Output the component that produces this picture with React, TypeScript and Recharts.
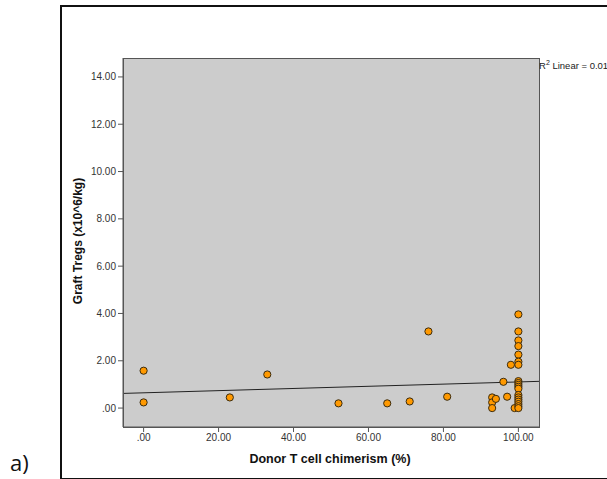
import React from 'react';
import { ScatterChart, Scatter, XAxis, YAxis, CartesianGrid, ReferenceLine } from 'recharts';

const chimerism: number[] = [
  0, 0, 23, 33, 52, 65, 71, 76, 81, 93, 93, 93, 94, 96, 97, 98, 99,
  100, 100, 100, 100, 100, 100, 100, 100, 100, 100, 100, 100, 100, 100, 100, 100, 100, 100, 100,
];
const graftTregs: number[] = [
  1.58, 0.24, 0.45, 1.42, 0.2, 0.2, 0.28, 3.24, 0.48, 0.45, 0.24, 0.0, 0.39, 1.11, 0.48, 1.83, 0.0,
  3.96, 3.24, 2.86, 2.62, 2.26, 1.96, 1.83, 1.14, 1.06, 0.98, 0.9, 0.82, 0.55, 0.45, 0.36, 0.27, 0.17, 0.08, 0.0,
];
const xTicks: number[] = [0, 20, 40, 60, 80, 100];
const yTicks: number[] = [0, 2, 4, 6, 8, 10, 12, 14];
const xDomain: [number, number] = [-5.5, 105.5];
const yDomain: [number, number] = [-0.8, 14.8];
const fitLineX: number[] = [-5.5, 105.5];
const fitLineY: number[] = [0.62, 1.13];

const points = chimerism.map((x, i) => ({ x, y: graftTregs[i] }));
const fitSegment = fitLineX.map((x, i) => ({ x, y: fitLineY[i] }));

const fmt = (v: number) => (v === 0 ? '.00' : v.toFixed(2));

const Dot = (props: any) => {
  const { cx, cy } = props;
  if (cx == null || cy == null) return null;
  return <circle cx={cx} cy={cy} r={3.6} fill="#FF9900" stroke="#3b2c10" strokeWidth={1} />;
};

const PLOT_LEFT = 123;
const PLOT_TOP = 58;
const PLOT_RIGHT = 539;
const PLOT_BOTTOM = 427;
const W = 607;
const H = 479;
const Y_AXIS_W = 50;
const X_AXIS_H = 30;

export default function App() {
  const tickStyle = { fontFamily: '"Liberation Sans", Arial, sans-serif', fontSize: 10, fill: '#333' };
  return (
    <div style={{ position: 'absolute', left: 0, top: 0, width: W, height: H, background: '#fff', overflow: 'hidden' }}>
      <div
        style={{
          position: 'absolute',
          left: 60,
          top: 5,
          width: 560,
          height: 471,
          borderLeft: '2px solid #111',
          borderTop: '2px solid #111',
          borderBottom: '2px solid #111',
        }}
      />
      <div
        style={{
          position: 'absolute',
          left: 10,
          top: 448,
          fontFamily: '"Open Sans", "Liberation Sans", sans-serif',
          fontSize: 22,
          color: '#111',
          lineHeight: '28px',
        }}
      >
        a)
      </div>
      <div style={{ position: 'absolute', left: 0, top: 0 }}>
        <ScatterChart
          width={W}
          height={H}
          margin={{
            top: PLOT_TOP,
            right: W - PLOT_RIGHT,
            bottom: H - PLOT_BOTTOM - X_AXIS_H,
            left: PLOT_LEFT - Y_AXIS_W,
          }}
        >
          <CartesianGrid horizontal={false} vertical={false} fill="#cccccc" fillOpacity={1} />
          <XAxis
            type="number"
            dataKey="x"
            domain={xDomain}
            ticks={xTicks}
            tickFormatter={fmt}
            allowDataOverflow
            height={X_AXIS_H}
            tick={tickStyle}
            tickSize={5}
            axisLine={{ stroke: '#555' }}
            tickLine={{ stroke: '#555' }}
          />
          <YAxis
            type="number"
            dataKey="y"
            domain={yDomain}
            ticks={yTicks}
            tickFormatter={fmt}
            allowDataOverflow
            width={Y_AXIS_W}
            tick={tickStyle}
            tickSize={5}
            axisLine={{ stroke: '#555' }}
            tickLine={{ stroke: '#555' }}
          />
          <ReferenceLine segment={fitSegment} stroke="#222" strokeWidth={1} />
          <Scatter data={points} shape={Dot} isAnimationActive={false} />
        </ScatterChart>
      </div>
      <div
        style={{
          position: 'absolute',
          left: PLOT_LEFT,
          top: PLOT_TOP,
          width: PLOT_RIGHT - PLOT_LEFT - 1,
          height: PLOT_BOTTOM - PLOT_TOP - 1,
          border: '1px solid #555',
          pointerEvents: 'none',
          boxSizing: 'content-box',
        }}
      />
      <div
        style={{
          position: 'absolute',
          left: PLOT_RIGHT,
          top: 60,
          fontFamily: '"Liberation Sans", Arial, sans-serif',
          fontSize: 9.5,
          color: '#222',
          whiteSpace: 'nowrap',
        }}
      >
        R<sup style={{ fontSize: 7, verticalAlign: 'super', lineHeight: 0 }}>2</sup> Linear = 0.01
      </div>
      <div
        style={{
          position: 'absolute',
          left: 78,
          top: 241,
          transform: 'translate(-50%, -50%) rotate(-90deg)',
          fontFamily: '"Liberation Sans", Arial, sans-serif',
          fontWeight: 'bold',
          fontSize: 12,
          color: '#111',
          whiteSpace: 'nowrap',
        }}
      >
        Graft Tregs (x10^6/kg)
      </div>
      <div
        style={{
          position: 'absolute',
          left: 330,
          top: 459,
          transform: 'translate(-50%, -50%)',
          fontFamily: '"Liberation Sans", Arial, sans-serif',
          fontWeight: 'bold',
          fontSize: 12.5,
          color: '#111',
          whiteSpace: 'nowrap',
        }}
      >
        Donor T cell chimerism (%)
      </div>
    </div>
  );
}
